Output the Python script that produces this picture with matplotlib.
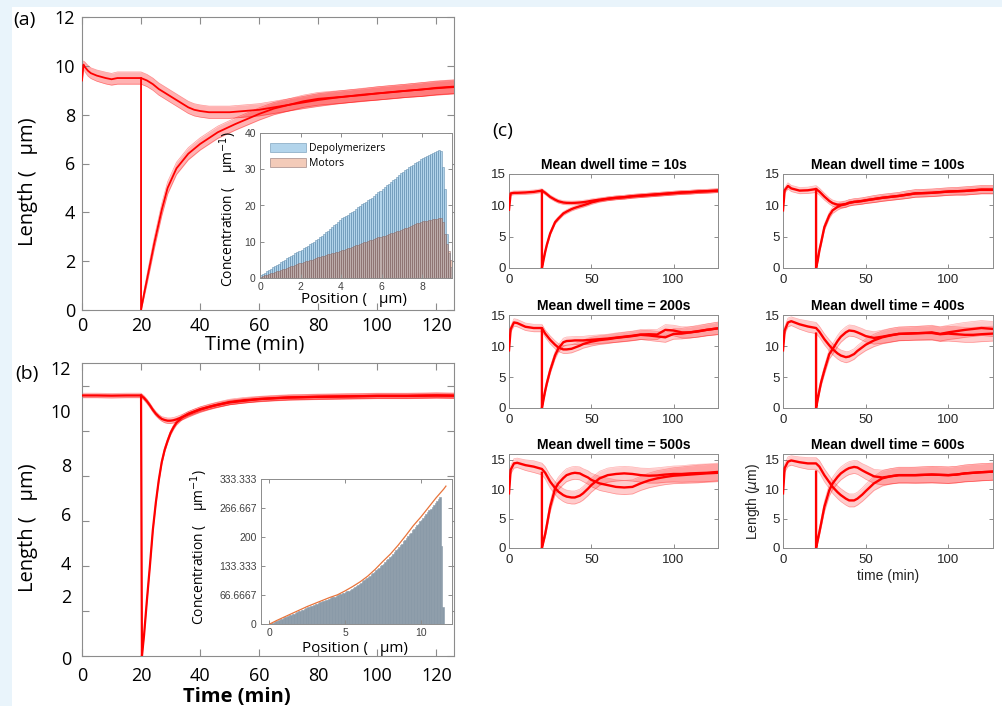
import numpy as np
import matplotlib
matplotlib.use("Agg")
import matplotlib.pyplot as plt
from matplotlib.patches import Rectangle

plt.rcParams['font.family'] = ['Open Sans', 'DejaVu Sans']
plt.rcParams['mathtext.fontset'] = 'dejavusans'

# ---------------- (a) length after cut, dwell 10 s
A_T = [0, 0.5, 1, 2, 3, 5, 8, 10, 12, 15, 18, 20, 22, 24, 26, 28, 30, 32, 34, 36,
       38, 40, 43, 46, 50, 55, 60, 65, 70, 75, 80, 85, 90, 95, 100, 105, 110, 115, 120, 126]
A_LEN = [9.4, 10.05, 9.95, 9.8, 9.7, 9.6, 9.5, 9.45, 9.5, 9.5, 9.5, 9.5, 9.4, 9.25, 9.05, 8.9, 8.75, 8.6, 8.45, 8.3,
         8.2, 8.15, 8.1, 8.1, 8.1, 8.15, 8.2, 8.3, 8.4, 8.55, 8.65, 8.7, 8.75, 8.8, 8.87, 8.92, 8.98, 9.03, 9.1, 9.15]
A_SD = [0.05, 0.15, 0.2, 0.22, 0.22, 0.23, 0.24, 0.24, 0.25, 0.25, 0.25, 0.25, 0.25, 0.25, 0.25, 0.25, 0.25, 0.25, 0.25, 0.25,
        0.25, 0.25, 0.25, 0.25, 0.25, 0.25, 0.25, 0.25, 0.25, 0.25, 0.26, 0.26, 0.26, 0.26, 0.27, 0.27, 0.27, 0.28, 0.28, 0.28]
A_CUT_T = [20, 20, 21, 22, 23, 24.5, 27, 29, 32, 36, 40, 46, 52, 60, 65, 70, 75, 80, 85, 90,
           95, 100, 105, 110, 115, 120, 126]
A_CUT_LEN = [9.5, 0, 0.65, 1.25, 1.85, 2.75, 4.1, 5.0, 5.8, 6.4, 6.8, 7.28, 7.62, 8.03, 8.25, 8.4, 8.5, 8.6, 8.68, 8.75,
             8.82, 8.87, 8.93, 8.98, 9.03, 9.08, 9.13]
A_CUT_SD = [0.02, 0.02, 0.15, 0.2, 0.22, 0.24, 0.25, 0.25, 0.25, 0.25, 0.25, 0.25, 0.25, 0.25, 0.25, 0.25, 0.25, 0.26, 0.26, 0.26,
            0.26, 0.27, 0.27, 0.27, 0.28, 0.28, 0.28]

# inset (a): concentration profiles, 0.1 um bins
A_BIN = 0.1
DEPOLY = [0.8, 1.0, 1.4, 1.8, 2.2, 2.5, 2.9, 3.2, 3.6, 3.9,
          4.3, 4.6, 5.0, 5.4, 5.7, 6.0, 6.4, 6.8, 7.1, 7.5,
          7.8, 8.2, 8.5, 8.9, 9.3, 9.6, 10.0, 10.4, 10.8, 11.2,
          11.7, 12.1, 12.6, 13.0, 13.5, 14.0, 14.5, 15.0, 15.5, 16.0,
          16.5, 16.8, 17.1, 17.4, 17.8, 18.2, 18.6, 19.0, 19.5, 19.9,
          20.3, 20.7, 21.0, 21.4, 21.8, 22.2, 22.6, 23.1, 23.6, 24.1,
          24.6, 25.1, 25.6, 26.0, 26.4, 26.9, 27.4, 27.9, 28.4, 28.9,
          29.3, 29.7, 30.1, 30.5, 30.9, 31.3, 31.6, 32.0, 32.4, 32.8,
          33.1, 33.4, 33.7, 34.0, 34.3, 34.6, 34.8, 35.1, 35.4, 35.0,
          30.5, 24.5, 12.0, 7.0, 3.0]
MOTORS = [0.3, 0.5, 0.7, 0.9, 1.1, 1.3, 1.5, 1.7, 1.8, 2.0,
          2.2, 2.4, 2.6, 2.8, 3.0, 3.2, 3.4, 3.6, 3.8, 4.0,
          4.2, 4.4, 4.6, 4.7, 4.9, 5.1, 5.3, 5.5, 5.7, 5.9,
          6.0, 6.2, 6.3, 6.5, 6.6, 6.8, 7.0, 7.1, 7.3, 7.5,
          7.6, 7.8, 8.0, 8.2, 8.4, 8.6, 8.8, 9.0, 9.2, 9.5,
          9.7, 9.8, 10.0, 10.2, 10.4, 10.6, 10.8, 11.0, 11.2, 11.4,
          11.5, 11.7, 11.9, 12.1, 12.3, 12.5, 12.7, 12.9, 13.1, 13.3,
          13.5, 13.7, 13.9, 14.1, 14.3, 14.6, 14.9, 15.1, 15.3, 15.5,
          15.6, 15.7, 15.8, 15.9, 16.0, 16.2, 16.3, 16.4, 16.5, 16.6,
          15.5, 12.0, 9.5, 7.5, 5.0]

# ---------------- (b)
B_T = [0, 5, 10, 15, 20, 21, 22, 23, 24, 25, 26, 27, 28, 29, 30, 31, 32, 34, 36, 38,
       40, 43, 46, 50, 55, 60, 65, 70, 80, 90, 100, 110, 120, 126]
B_LEN = [11.56, 11.56, 11.55, 11.56, 11.56, 11.45, 11.3, 11.12, 10.92, 10.75, 10.62, 10.52, 10.47, 10.44, 10.44, 10.46, 10.5, 10.6, 10.72, 10.83,
         10.93, 11.05, 11.15, 11.27, 11.35, 11.4, 11.44, 11.47, 11.5, 11.52, 11.54, 11.54, 11.56, 11.55]
B_SD = [0.1, 0.1, 0.1, 0.1, 0.1, 0.1, 0.1, 0.1, 0.1, 0.1, 0.1, 0.1, 0.12, 0.12, 0.12, 0.12, 0.12, 0.12, 0.12, 0.12,
        0.12, 0.12, 0.12, 0.12, 0.12, 0.12, 0.12, 0.12, 0.12, 0.12, 0.12, 0.12, 0.12, 0.12]
B_CUT_T = [20, 20.3, 21, 22, 23, 24, 25, 26, 27, 28, 29, 30, 31, 32, 34, 36, 38, 40, 45, 50,
           60, 70, 80, 90, 100, 110, 120, 126]
B_CUT_LEN = [11.56, 0, 0.9, 2.5, 4.0, 5.6, 6.8, 7.8, 8.6, 9.15, 9.55, 9.9, 10.15, 10.35, 10.6, 10.75, 10.85, 10.95, 11.12, 11.25,
             11.4, 11.47, 11.5, 11.52, 11.54, 11.54, 11.56, 11.55]
B_CUT_SD = [0.02, 0.02, 0.08, 0.1, 0.1, 0.1, 0.1, 0.1, 0.1, 0.1, 0.1, 0.1, 0.1, 0.1, 0.1, 0.1, 0.1, 0.1, 0.1, 0.1,
            0.1, 0.1, 0.1, 0.1, 0.1, 0.1, 0.1, 0.1]

B_BIN = 0.1
B_CONC = [1, 2, 3, 5, 6, 8, 9, 11, 12, 14,
          15, 17, 18, 20, 21, 23, 24, 26, 27, 29,
          30, 32, 33, 35, 36, 38, 39, 41, 42, 44,
          45, 47, 48, 50, 51, 52, 54, 55, 56, 58,
          59, 61, 62, 63, 65, 66, 68, 69, 71, 72,
          73, 75, 77, 79, 81, 83, 86, 88, 90, 93,
          95, 98, 100, 103, 105, 108, 111, 114, 117, 120,
          123, 126, 129, 133, 136, 139, 143, 146, 150, 154,
          157, 161, 165, 169, 173, 177, 181, 185, 190, 194,
          198, 202, 206, 210, 215, 219, 223, 227, 231, 236,
          240, 244, 248, 253, 257, 261, 265, 270, 274, 278,
          283, 288, 292, 180, 40]
B_FIT_X = [0.05, 0.5, 1, 1.5, 2, 2.5, 3, 3.5, 4, 4.5, 5, 5.5, 6, 6.5, 7, 7.5, 8, 8.5, 9, 9.5,
           10, 10.5, 11, 11.5, 11.65]
B_FIT_Y = [0, 8, 16, 24, 32, 40, 47, 54, 61, 67, 76, 86, 97, 110, 126, 144, 161, 181, 203, 226,
           246, 268, 290, 310, 317]
B_YTICKLABELS = ['0', '66.6667', '133.333', '200', '266.667', '333.333']

# ---------------- (c) six dwell times
C_TITLES = ['Mean dwell time = 10s', 'Mean dwell time = 100s', 'Mean dwell time = 200s',
            'Mean dwell time = 400s', 'Mean dwell time = 500s', 'Mean dwell time = 600s']
TC = [0, 1, 3, 5, 10, 15, 20, 22, 25, 28, 30, 33, 35, 38, 40, 43, 45, 48, 50, 55,
      60, 65, 70, 75, 80, 85, 90, 95, 100, 105, 110, 115, 120, 127]
TC_CUT = [20, 20, 21, 22, 23, 25, 28, 30, 33, 35, 38, 40, 43, 45, 48, 50, 55, 60, 65, 70,
          75, 80, 85, 90, 95, 100, 105, 110, 115, 120, 127]

C10 = [9.3, 11.9, 12.0, 12.0, 12.05, 12.15, 12.35, 12.0, 11.35, 10.9, 10.65, 10.45, 10.4, 10.38, 10.4, 10.45, 10.5, 10.62, 10.72, 10.9,
       11.05, 11.2, 11.3, 11.45, 11.55, 11.65, 11.75, 11.85, 11.95, 12.05, 12.1, 12.2, 12.25, 12.35]
C10_CUT = [12.35, 0, 1.3, 2.6, 3.7, 5.5, 7.3, 7.9, 8.7, 9.0, 9.4, 9.6, 9.85, 10.0, 10.25, 10.45, 10.8, 11.05, 11.2, 11.3,
           11.45, 11.55, 11.65, 11.75, 11.85, 11.95, 12.05, 12.1, 12.2, 12.25, 12.35]
C100 = [9.2, 12.4, 13.1, 12.7, 12.35, 12.4, 12.6, 12.2, 11.4, 10.7, 10.35, 10.1, 10.1, 10.2, 10.4, 10.55, 10.6, 10.7, 10.8, 11.0,
        11.2, 11.35, 11.5, 11.7, 11.9, 11.95, 12.0, 12.1, 12.2, 12.25, 12.3, 12.4, 12.5, 12.5]
C100_CUT = [12.6, 0, 1.2, 2.8, 4.0, 6.5, 8.4, 9.2, 9.75, 10.0, 10.2, 10.4, 10.55, 10.6, 10.7, 10.8, 11.0, 11.2, 11.35, 11.5,
            11.7, 11.9, 11.95, 12.0, 12.1, 12.2, 12.25, 12.3, 12.4, 12.5, 12.5]
C200 = [9.3, 12.7, 13.8, 13.7, 13.1, 12.9, 12.9, 12.0, 11.0, 10.2, 9.75, 9.45, 9.45, 9.55, 9.75, 10.05, 10.3, 10.55, 10.7, 10.95,
        11.1, 11.3, 11.45, 11.6, 11.8, 11.7, 11.55, 11.4, 11.95, 12.0, 12.2, 12.35, 12.6, 12.85]
C200_CUT = [12.8, 0, 1.4, 2.8, 4.0, 6.05, 8.5, 9.6, 10.6, 10.8, 10.85, 10.9, 10.9, 10.9, 10.95, 11.0, 11.1, 11.2, 11.35, 11.5,
            11.65, 11.85, 11.9, 11.85, 12.6, 12.5, 12.2, 12.2, 12.4, 12.6, 12.85]
C400 = [9.3, 12.5, 13.8, 14.0, 13.5, 13.15, 12.9, 12.3, 11.1, 10.1, 9.5, 8.8, 8.46, 8.2, 8.3, 8.7, 9.2, 9.8, 10.2, 10.9,
        11.4, 11.7, 11.95, 12.0, 12.05, 12.1, 12.2, 11.95, 12.2, 12.4, 12.6, 12.75, 12.9, 12.75]
C400_CUT = [12.0, 0, 1.4, 2.8, 4.1, 6.05, 8.7, 9.5, 10.8, 11.5, 12.2, 12.5, 12.4, 12.2, 11.85, 11.6, 11.3, 11.5, 11.75, 11.95,
            12.0, 12.05, 12.1, 12.1, 11.9, 12.0, 11.9, 11.8, 11.8, 11.9, 12.0]
C500 = [9.3, 13.3, 14.4, 14.5, 14.1, 13.85, 13.45, 12.8, 11.3, 10.2, 9.6, 9.0, 8.75, 8.6, 8.6, 8.9, 9.3, 10.1, 10.7, 11.85,
        12.4, 12.6, 12.7, 12.6, 12.4, 12.3, 12.35, 12.5, 12.6, 12.6, 12.7, 12.75, 12.8, 12.95]
C500_CUT = [12.8, 0, 1.2, 2.4, 3.9, 7.0, 10.1, 11.0, 11.9, 12.4, 12.7, 12.8, 12.7, 12.4, 12.0, 11.6, 11.0, 10.7, 10.4, 10.3,
            10.4, 11.0, 11.5, 11.85, 12.1, 12.3, 12.4, 12.5, 12.6, 12.7, 12.8]
C600 = [9.3, 13.6, 14.7, 14.9, 14.6, 14.4, 14.4, 13.85, 12.4, 11.2, 10.4, 9.5, 9.0, 8.4, 8.1, 8.1, 8.4, 9.1, 9.67, 11.0,
        11.85, 12.2, 12.4, 12.4, 12.4, 12.45, 12.5, 12.45, 12.4, 12.5, 12.7, 12.8, 12.9, 13.0]
C600_CUT = [13.0, 0, 1.3, 2.7, 4.1, 7.0, 9.85, 11.0, 12.1, 12.7, 13.3, 13.6, 13.8, 13.7, 13.2, 12.9, 12.2, 12.0, 12.2, 12.4,
            12.4, 12.4, 12.45, 12.5, 12.45, 12.4, 12.5, 12.7, 12.8, 12.9, 13.0]

SD10 = [0.1, 0.3, 0.3, 0.3, 0.3, 0.3, 0.3, 0.3, 0.3, 0.3, 0.3, 0.3, 0.3, 0.3, 0.3, 0.3, 0.3, 0.3, 0.3, 0.3,
        0.3, 0.3, 0.3, 0.3, 0.3, 0.3, 0.3, 0.3, 0.3, 0.3, 0.3, 0.3, 0.3, 0.3]
SD10_CUT = [0.05, 0.05, 0.2, 0.25, 0.3, 0.3, 0.3, 0.3, 0.3, 0.3, 0.3, 0.3, 0.3, 0.3, 0.3, 0.3, 0.3, 0.3, 0.3, 0.3,
            0.3, 0.3, 0.3, 0.3, 0.3, 0.3, 0.3, 0.3, 0.3, 0.3, 0.3]
SD100 = [0.1, 0.4, 0.5, 0.5, 0.5, 0.5, 0.55, 0.55, 0.55, 0.5, 0.5, 0.5, 0.5, 0.5, 0.5, 0.5, 0.5, 0.5, 0.5, 0.55,
         0.55, 0.55, 0.55, 0.6, 0.6, 0.6, 0.6, 0.6, 0.6, 0.6, 0.65, 0.65, 0.65, 0.65]
SD100_CUT = [0.05, 0.05, 0.3, 0.4, 0.45, 0.5, 0.5, 0.5, 0.5, 0.5, 0.5, 0.5, 0.5, 0.5, 0.5, 0.5, 0.55, 0.55, 0.55, 0.55,
             0.6, 0.6, 0.6, 0.6, 0.6, 0.6, 0.6, 0.65, 0.65, 0.65, 0.65]
SD200 = [0.1, 0.5, 0.6, 0.6, 0.6, 0.6, 0.6, 0.6, 0.65, 0.65, 0.65, 0.65, 0.65, 0.65, 0.65, 0.65, 0.65, 0.7, 0.7, 0.7,
         0.7, 0.7, 0.75, 0.75, 0.75, 0.8, 0.8, 0.8, 0.85, 0.85, 0.9, 0.9, 0.95, 1.0]
SD200_CUT = [0.05, 0.05, 0.3, 0.45, 0.5, 0.55, 0.6, 0.6, 0.65, 0.65, 0.65, 0.65, 0.65, 0.65, 0.7, 0.7, 0.7, 0.7, 0.75, 0.75,
             0.75, 0.8, 0.8, 0.8, 0.85, 0.85, 0.9, 0.9, 0.95, 0.95, 1.0]
SD400 = [0.1, 0.6, 0.7, 0.7, 0.8, 0.9, 0.9, 0.9, 0.9, 0.9, 0.9, 0.9, 0.9, 0.9, 0.85, 0.85, 0.85, 0.9, 0.95, 1.0,
         1.05, 1.1, 1.1, 1.1, 1.1, 1.1, 1.15, 1.15, 1.15, 1.2, 1.2, 1.2, 1.2, 1.2]
SD400_CUT = [0.05, 0.05, 0.35, 0.5, 0.6, 0.7, 0.8, 0.85, 0.9, 0.9, 0.9, 0.9, 0.9, 0.9, 0.95, 0.95, 1.0, 1.05, 1.1, 1.1,
             1.1, 1.1, 1.15, 1.15, 1.15, 1.2, 1.2, 1.2, 1.2, 1.2, 1.2]
SD500 = [0.1, 0.7, 0.8, 0.8, 0.9, 1.0, 1.0, 1.05, 1.1, 1.1, 1.1, 1.1, 1.1, 1.1, 1.1, 1.1, 1.15, 1.2, 1.2, 1.2,
         1.2, 1.2, 1.2, 1.2, 1.2, 1.25, 1.3, 1.3, 1.35, 1.4, 1.45, 1.5, 1.5, 1.5]
SD500_CUT = [0.05, 0.05, 0.4, 0.6, 0.7, 0.9, 1.0, 1.05, 1.1, 1.1, 1.1, 1.1, 1.1, 1.1, 1.15, 1.15, 1.2, 1.2, 1.2, 1.2,
             1.2, 1.2, 1.25, 1.3, 1.3, 1.35, 1.4, 1.45, 1.5, 1.5, 1.5]
SD600 = [0.1, 0.7, 0.8, 0.8, 0.9, 1.0, 1.0, 1.05, 1.1, 1.1, 1.1, 1.1, 1.1, 1.1, 1.1, 1.1, 1.1, 1.15, 1.2, 1.2,
         1.3, 1.3, 1.35, 1.35, 1.35, 1.4, 1.4, 1.4, 1.4, 1.4, 1.4, 1.45, 1.45, 1.45]
SD600_CUT = [0.05, 0.05, 0.4, 0.6, 0.7, 0.9, 1.0, 1.05, 1.1, 1.1, 1.1, 1.1, 1.1, 1.15, 1.15, 1.2, 1.2, 1.25, 1.3, 1.3,
             1.3, 1.35, 1.35, 1.4, 1.4, 1.4, 1.4, 1.45, 1.45, 1.45, 1.45]

C_UNCUT = [C10, C100, C200, C400, C500, C600]
C_CUT = [C10_CUT, C100_CUT, C200_CUT, C400_CUT, C500_CUT, C600_CUT]
C_SD = [SD10, SD100, SD200, SD400, SD500, SD600]
C_SD_CUT = [SD10_CUT, SD100_CUT, SD200_CUT, SD400_CUT, SD500_CUT, SD600_CUT]
C_YMAX = [15, 15, 15, 15, 16, 16]

RED = '#ff0000'
FRAME = '#8c8c8c'
W, H = 1002, 706


def px_axes(fig, l, t, r, b):
    return fig.add_axes([l / W, 1 - b / H, (r - l) / W, (b - t) / H])


def frame(ax, fs, tcolor, family, lw=0.8, tl=4, xpad=4, ypad=4):
    ax.tick_params(direction='in', top=True, right=True, length=tl, width=lw,
                   color=FRAME, labelsize=fs, labelcolor=tcolor)
    ax.tick_params(axis='x', pad=xpad)
    ax.tick_params(axis='y', pad=ypad)
    for s in ax.spines.values():
        s.set_color(FRAME)
        s.set_linewidth(lw)
    for lab in ax.get_xticklabels() + ax.get_yticklabels():
        lab.set_fontfamily(family)


def shaded(ax, t, m, sd, lw, alpha):
    m = np.asarray(m, float)
    sd = np.asarray(sd, float)
    ax.fill_between(t, m - sd, m + sd, color=RED, alpha=alpha, lw=0, zorder=1)
    ax.plot(t, m - sd, color=RED, alpha=alpha + 0.1, lw=0.5, zorder=2)
    ax.plot(t, m + sd, color=RED, alpha=alpha + 0.1, lw=0.5, zorder=2)
    ax.plot(t, m, color=RED, lw=lw, zorder=3)


fig = plt.figure(figsize=(W / 100, H / 100), dpi=100, facecolor='#e9f4fb')
fig.patches.append(Rectangle((12 / W, 0), 1, 1 - 7 / H, transform=fig.transFigure,
                             facecolor='white', edgecolor='none', zorder=-10))

MAIN_FONT = ['Open Sans', 'DejaVu Sans']
MATLAB_FONT = ['Liberation Sans', 'DejaVu Sans']

# ---------- panel (a)
ax = px_axes(fig, 82, 17, 454, 310)
shaded(ax, A_T, A_LEN, A_SD, 1.3, 0.3)
shaded(ax, A_CUT_T, A_CUT_LEN, A_CUT_SD, 1.3, 0.3)
ax.set_xlim(0, 126)
ax.set_ylim(0, 12)
ax.set_xticks(range(0, 121, 20))
ax.set_yticks(range(0, 13, 2))
frame(ax, 13, 'black', MAIN_FONT, xpad=5, ypad=5, tl=5)
ax.set_xlabel('Time (min)', fontsize=14.5)
ax.xaxis.set_label_coords(0.465, -0.085)
ax.set_ylabel('Length (   μm)', fontsize=14.5)
ax.yaxis.set_label_coords(-0.117, 0.438)
fig.text(13 / W, 1 - 20 / H, '(a)', fontsize=14, va='center', ha='left')

# inset (a)
axi = px_axes(fig, 260, 133, 452, 278)
xs = np.arange(len(DEPOLY)) * A_BIN + A_BIN / 2
axi.bar(xs, DEPOLY, width=A_BIN, facecolor=(0, 0.447, 0.741, 0.3),
        edgecolor=(0.42, 0.58, 0.7, 0.8), linewidth=0.5, label='Depolymerizers')
axi.bar(xs, MOTORS, width=A_BIN, facecolor=(0.85, 0.325, 0.098, 0.3),
        edgecolor=(0.55, 0.45, 0.45, 0.8), linewidth=0.5, label='Motors')
axi.set_xlim(0, 9.48)
axi.set_ylim(0, 40)
axi.set_xticks([0, 2, 4, 6, 8])
axi.set_yticks([0, 10, 20, 30, 40])
frame(axi, 7.5, '#404040', MATLAB_FONT, lw=0.7, tl=3, xpad=3, ypad=3)
axi.set_xlabel('Position (   μm)', fontsize=11)
axi.xaxis.set_label_coords(0.49, -0.1)
axi.set_ylabel('Concentration (    μm$^{-1}$)', fontsize=10)
axi.yaxis.set_label_coords(-0.104, 0.476)
axi.legend(loc='upper left', frameon=False, fontsize=7.5, handlelength=3.4,
           handleheight=0.9, labelspacing=0.35, handletextpad=0.3, borderaxespad=0.6)

# ---------- panel (b)
ax = px_axes(fig, 82, 363, 454, 656)
shaded(ax, B_T, B_LEN, B_SD, 1.6, 0.3)
shaded(ax, B_CUT_T, B_CUT_LEN, B_CUT_SD, 1.6, 0.3)
ax.set_xlim(0, 126)
ax.set_ylim(0, 13)
ax.set_xticks(range(0, 121, 20))
ax.set_yticks(range(0, 13, 2))
ax.set_yticklabels([])
frame(ax, 13, 'black', MAIN_FONT, xpad=8, ypad=5, tl=5)
ytr = ax.get_yaxis_transform()
for lab, yv in zip(['12', '10', '8', '6', '4', '2', '0'],
                   [12.7, 10.78, 8.39, 6.21, 4.04, 2.57, -0.18]):
    ax.text(-11 / 372, yv, lab, transform=ytr, ha='right', va='center', fontsize=13)
ax.set_xlabel('Time (min)', fontsize=14.5, fontweight='bold')
ax.xaxis.set_label_coords(0.416, -0.105)
ax.set_ylabel('Length (   μm)', fontsize=14.5)
ax.yaxis.set_label_coords(-0.117, 0.437)
fig.text(15 / W, 1 - 374 / H, '(b)', fontsize=14, va='center', ha='left')

# inset (b)
axi = px_axes(fig, 261, 479, 452, 624)
xs = np.arange(len(B_CONC)) * B_BIN + B_BIN / 2
axi.bar(xs, B_CONC, width=B_BIN, facecolor='#8a9aa8', edgecolor='#8a9aa8', linewidth=0.4)
axi.plot(B_FIT_X, B_FIT_Y, color='#e8733a', lw=0.9)
axi.set_xlim(-0.53, 12.05)
axi.set_ylim(0, 333.333)
axi.set_xticks([0, 5, 10])
axi.set_yticks([0, 66.6667, 133.333, 200, 266.667, 333.333])
axi.set_yticklabels(B_YTICKLABELS)
frame(axi, 7.5, '#404040', MATLAB_FONT, lw=0.7, tl=3, xpad=3, ypad=3)
axi.set_xlabel('Position (   μm)', fontsize=11)
axi.xaxis.set_label_coords(0.492, -0.118)
axi.set_ylabel('Concentration (    μm$^{-1}$)', fontsize=10)
axi.yaxis.set_label_coords(-0.262, 0.533)

# ---------- panel (c)
fig.text(492 / W, 1 - 131 / H, '(c)', fontsize=14, va='center', ha='left')
cols = [(509, 718), (783, 993)]
rows = [(174, 268), (315, 408), (454, 548)]
for i in range(6):
    r, c = divmod(i, 2)
    ax = px_axes(fig, cols[c][0], rows[r][0], cols[c][1], rows[r][1])
    shaded(ax, TC, C_UNCUT[i], C_SD[i], 1.7, 0.2)
    shaded(ax, TC_CUT, C_CUT[i], C_SD_CUT[i], 1.7, 0.2)
    ax.set_xlim(0, 127)
    ax.set_ylim(0, C_YMAX[i])
    ax.set_xticks([0, 50, 100])
    ax.set_yticks([0, 5, 10, 15])
    frame(ax, 9.5, '#262626', MATLAB_FONT, lw=0.7, tl=3, xpad=4.5, ypad=2.5)
    ax.set_title(C_TITLES[i], fontsize=10, fontweight='bold', family=MATLAB_FONT,
                 pad=3.5, color='black')
    if i == 5:
        ax.set_xlabel('time (min)', fontsize=10, family=MATLAB_FONT, color='#262626', labelpad=2)
        ax.set_ylabel('Length ($\\mu$m)', fontsize=10, family=MATLAB_FONT, color='#262626', labelpad=2)

fig.savefig('out.png', dpi=100, facecolor=fig.get_facecolor())
